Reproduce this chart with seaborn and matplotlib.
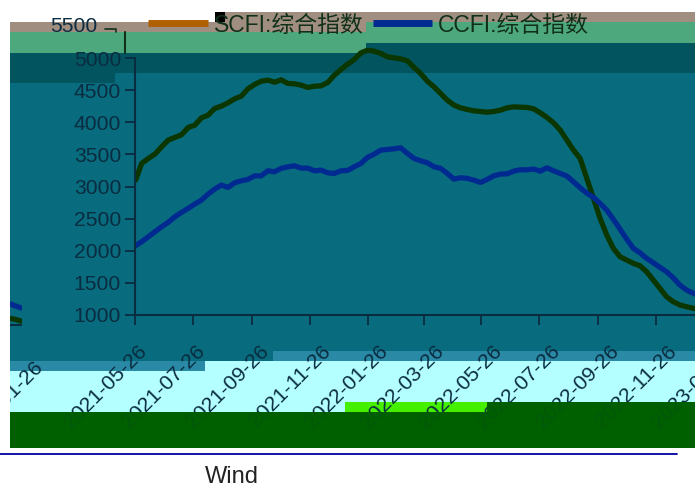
import matplotlib as mpl
mpl.use('agg')
import matplotlib.pyplot as plt
from matplotlib.patches import Rectangle
from matplotlib.lines import Line2D
from matplotlib.transforms import Affine2D, Bbox
import pandas as pd
import seaborn as sns

# weekly values
scfi = [3075, 3360, 3438, 3505, 3619, 3723, 3765, 3806, 3920, 3956, 4070, 4112, 4216, 4252,
        4304, 4366, 4408, 4522, 4590, 4641, 4657, 4625, 4662, 4605, 4600, 4579, 4543, 4563,
        4568, 4620, 4734, 4823, 4906, 4978, 5081, 5123, 5108, 5072, 5020, 5004, 4988, 4957,
        4854, 4760, 4641, 4552, 4449, 4345, 4268, 4226, 4200, 4179, 4169, 4158, 4169,
        4190, 4226, 4241, 4236, 4232, 4210, 4148, 4076, 3992, 3879, 3723, 3567, 3438, 3127,
        2816, 2505, 2245, 2037, 1907, 1856, 1804, 1767, 1674, 1545, 1415, 1285, 1207, 1156,
        1129, 1105, 1090, 1060]
ccfi = [2074, 2141, 2218, 2296, 2374, 2442, 2530, 2597, 2660, 2727, 2789, 2883, 2961, 3023,
        2987, 3059, 3090, 3111, 3167, 3167, 3245, 3230, 3283, 3308, 3323, 3287, 3287, 3245,
        3256, 3214, 3204, 3245, 3251, 3308, 3360, 3454, 3505, 3567, 3578, 3588, 3603, 3516,
        3438, 3401, 3370, 3308, 3283, 3204, 3116, 3137, 3127, 3100, 3064, 3111, 3167,
        3194, 3199, 3240, 3261, 3261, 3272, 3240, 3292, 3245, 3204, 3163, 3074, 2981, 2898,
        2832, 2738, 2634, 2489, 2338, 2182, 2037, 1969, 1882, 1814, 1742, 1674, 1580, 1467,
        1389, 1340, 1300, 1265]
dates = pd.date_range('2021-05-26', periods=len(scfi), freq='7D')
xticks = ['2021-05-26', '2021-07-26', '2021-09-26', '2021-11-26', '2022-01-26', '2022-03-26',
          '2022-05-26', '2022-07-26', '2022-09-26', '2022-11-26', '2023-01-26']
yticks = [1000, 1500, 2000, 2500, 3000, 3500, 4000, 4500, 5000]
names = ['SCFI:综合指数', 'CCFI:综合指数']

W, H = 695, 492
INK = '#0a2c40'
GREEN = '#0c3600'
NAVY = '#002a90'

# colour bands behind the chart: x0, y0, x1, y1 in image pixels, colour
bands = [
    (215, 12, 695, 22, '#a08e80'), (10, 22, 366, 32, '#a08e80'),
    (10, 32, 366, 53, '#4ea87e'), (366, 22, 695, 43, '#4ea87e'),
    (10, 53, 115, 83, '#02555f'), (115, 53, 366, 73, '#02555f'), (366, 43, 695, 73, '#02555f'),
    (10, 83, 115, 361, '#086c7e'), (115, 73, 695, 351, '#086c7e'), (115, 351, 273, 361, '#086c7e'),
    (273, 351, 695, 361, '#2a8aa5'), (10, 361, 205, 371, '#2a8aa5'),
    (10, 371, 205, 412, '#b4ffff'), (205, 361, 345, 412, '#b4ffff'), (345, 361, 695, 402, '#b4ffff'),
    (345, 402, 487, 412, '#44f000'), (487, 402, 695, 412, '#006000'),
    (10, 412, 695, 448, '#006000'), (215, 12, 225, 22, '#000000'),
]
# the dark band also lies over the tail of the date labels
cover = [(10, 412, 695, 448), (487, 402, 695, 412)]


def band(x0, y0, x1, y1, **kw):
    return Rectangle((x0 / W, 1 - y1 / H), (x1 - x0) / W, (y1 - y0) / H,
                     transform=fig.transFigure, lw=0, **kw)


sns.set_style('ticks')
plt.rcParams['font.family'] = ['Liberation Sans', 'Noto Sans CJK SC']
plt.rcParams['axes.unicode_minus'] = False

fig = plt.figure(figsize=(W / 100, H / 100), dpi=100)
for x0, y0, x1, y1, c in bands:
    fig.add_artist(band(x0, y0, x1, y1, color=c, zorder=-5))
for x0, y0, x1, y1 in cover:
    fig.add_artist(band(x0, y0, x1, y1, color='#006000', alpha=0.85, zorder=5))

ax = fig.add_axes([135 / W, 177 / H, (714 - 135) / W, (466 - 177) / H])
ax.patch.set_alpha(0)

df = pd.DataFrame({'date': list(dates) * 2, 'value': scfi + ccfi,
                   'name': [names[0]] * len(scfi) + [names[1]] * len(ccfi)})
sns.lineplot(data=df, x='date', y='value', hue='name', palette=[GREEN, NAVY], lw=3.8,
             ax=ax, legend=False, solid_capstyle='butt')

tick_dates = pd.to_datetime(xticks)
ax.set_xticks(tick_dates)
ax.set_xticklabels(xticks, rotation=45, ha='right', va='top', rotation_mode='anchor', fontsize=15.2, color=INK)
ax.set_yticks(yticks)
ax.tick_params(axis='y', length=7, width=1.3, color=INK, labelsize=15.2, labelcolor=INK, pad=3)
ax.tick_params(axis='x', length=7, width=1.3, color=INK, pad=2)
ax.set_xlabel('')
ax.set_ylabel('')
sns.despine(ax=ax)
ax.spines['left'].set(color=INK, linewidth=1.5, bounds=(1000, 5000))
ax.spines['bottom'].set(color=INK, linewidth=1.5)

# date labels on the left part of the picture sit a bit further left
for i, lab in enumerate(ax.get_xticklabels()):
    dx = {0: 2, 1: 2, 2: 7}.get(i, 11)
    lab.set_transform(lab.get_transform() + Affine2D().translate(dx, -14))

# the right edge of the picture comes back in at the left, 10 px lower
wrap = Affine2D().translate(-685, -10)
wrap_clip = Bbox([[10, 0], [22, H]])
for vals, c in zip([scfi, ccfi], [GREEN, NAVY]):
    ln, = ax.plot(dates, vals, color=c, lw=3.8, transform=ax.transData + wrap)
    ln.set_clip_path(None)
    ln.set_clip_box(wrap_clip)
ln, = ax.plot(dates[[0, -1]], [1000, 1000], color=INK, lw=1.5, transform=ax.transData + wrap)
ln.set_clip_path(None)
ln.set_clip_box(wrap_clip)
ax.set_xlim(pd.Timestamp('2021-05-26'), pd.Timestamp('2023-01-26'))
ax.set_ylim(1000, 5500)
wrapped = ax.text(tick_dates[-1], 0, xticks[-1], rotation=45, ha='right', va='top', rotation_mode='anchor',
                  fontsize=15.2, color=INK, transform=ax.get_xaxis_transform() + Affine2D().translate(4, -33) + wrap)
wrapped.set_clip_path(None)
wrapped.set_clip_box(Bbox([[10, 0], [W, H]]))
wrapped.set_clip_on(True)

# top of the y axis sits further left in the picture
fig.text(50 / W, 1 - 27 / H, '5500', fontsize=15.2, color=INK, va='center', ha='left')
fig.add_artist(Line2D([125 / W, 125 / W], [1 - 32 / H, 1 - 53 / H], color='#10301a', lw=1.5))
fig.add_artist(Line2D([105 / W, 116 / W, 116 / W], [1 - 29 / H, 1 - 29 / H, 1 - 32 / H], color='#10301a', lw=1.2))

handles = [Line2D([], [], color='#b06000', lw=5, solid_capstyle='butt'),
           Line2D([], [], color=NAVY, lw=5, solid_capstyle='butt')]
ax.legend(handles, names, loc='center left', bbox_to_anchor=(148 / W, 1 - 25 / H), bbox_transform=fig.transFigure,
          ncol=2, frameon=False, fontsize=16.5, handlelength=2.6, handletextpad=0.26, columnspacing=0.4,
          borderaxespad=0, borderpad=0, labelcolor='#10301a')

# source line and footer
fig.add_artist(Line2D([0, 677 / W], [1 - 454 / H, 1 - 454 / H], color='#0000a0', lw=1.3))
fig.text(205 / W, 1 - 477 / H, 'Wind', fontsize=17, color='#222222', va='center', ha='left')

plt.savefig('out.png', dpi=100)
